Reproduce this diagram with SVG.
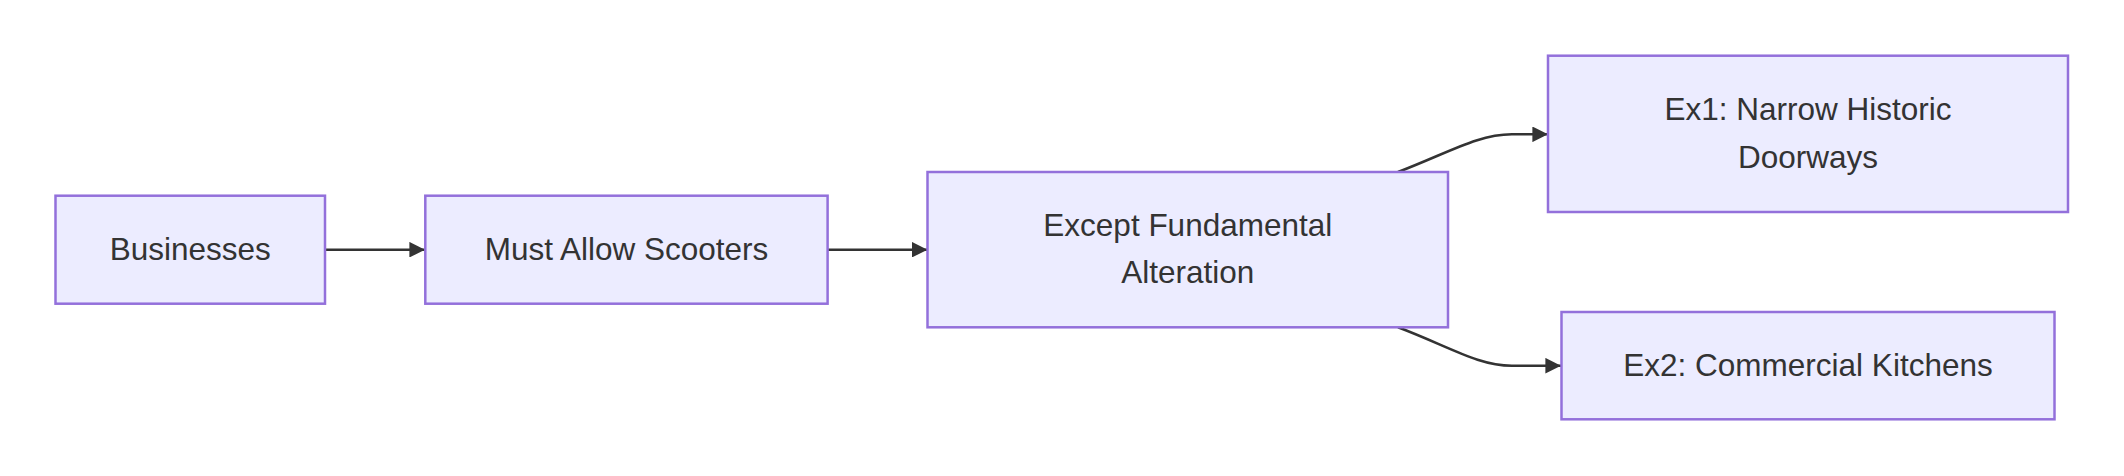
<svg xmlns="http://www.w3.org/2000/svg" width="2124" height="476" viewBox="0 0 2124 476">
<style>
.node rect{fill:#ECECFF;stroke:#9370DB;stroke-width:2.5}
.node text{font-family:"Liberation Sans",Arial,sans-serif;font-size:31.5px;fill:#333333;text-anchor:middle}
.edge{fill:none;stroke:#333333;stroke-width:2.6}
</style>
<defs>
<marker id="arrow" viewBox="0 0 10 10" refX="10" refY="5" markerWidth="6" markerHeight="6" markerUnits="strokeWidth" orient="auto">
<path d="M0,0 L10,5 L0,10 z" fill="#333333"/>
</marker>
</defs>
<rect width="2124" height="476" fill="#ffffff"/>
<g id="edges">
<path class="edge" d="M325,249.7 L425,249.7" marker-end="url(#arrow)"/>
<path class="edge" d="M827.6,249.7 L927.5,249.7" marker-end="url(#arrow)"/>
<path class="edge" d="M1398,172 C1450,152 1478,134.3 1512,134.3 L1548,134.3" marker-end="url(#arrow)"/>
<path class="edge" d="M1398,327.3 C1450,347 1478,365.7 1512,365.7 L1561,365.7" marker-end="url(#arrow)"/>
</g>
<g id="businesses" class="node">
<rect x="55.5" y="195.7" width="269.5" height="108"/>
<text x="190.2" y="260">Businesses</text>
</g>
<g id="must-allow-scooters" class="node">
<rect x="425.3" y="195.7" width="402.3" height="108"/>
<text x="626.5" y="260">Must Allow Scooters</text>
</g>
<g id="except-fundamental-alteration" class="node">
<rect x="927.5" y="172" width="520.5" height="155.3"/>
<text x="1187.8" y="235.7">Except Fundamental</text>
<text x="1187.8" y="283.3">Alteration</text>
</g>
<g id="ex1" class="node">
<rect x="1548" y="55.7" width="520" height="156.3"/>
<text x="1808" y="120">Ex1: Narrow Historic</text>
<text x="1808" y="167.5">Doorways</text>
</g>
<g id="ex2" class="node">
<rect x="1561.5" y="312" width="493" height="107.3"/>
<text x="1808" y="375.7">Ex2: Commercial Kitchens</text>
</g>
</svg>
